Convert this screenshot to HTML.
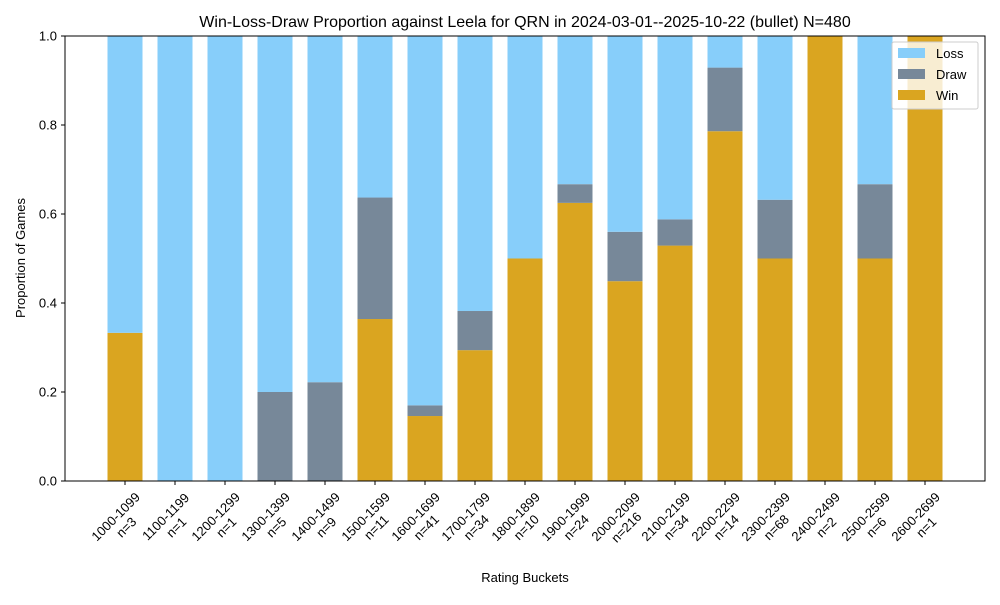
<!DOCTYPE html>
<html><head><meta charset="utf-8"><style>
body{margin:0;background:#fff}
svg{font-family:"Liberation Sans","DejaVu Sans",sans-serif}
</style></head><body>
<svg id="chart" width="1000" height="600" viewBox="0 0 1000 600">
<rect width="1000" height="600" fill="#fff"/>
<text x="525" y="27" text-anchor="middle" font-size="16">Win-Loss-Draw Proportion against Leela for QRN in 2024-03-01--2025-10-22 (bullet) N=480</text>
<g id="bars"></g>
<g id="axes"></g>
<text x="525" y="582" text-anchor="middle" font-size="13">Rating Buckets</text>
<text transform="translate(25,258) rotate(-90)" text-anchor="middle" font-size="13">Proportion of Games</text>
<g>
<rect x="892" y="42" width="86" height="67" fill="#fff" fill-opacity="0.8" stroke="#ccc" rx="2"/>
<g><rect x="898" y="48" width="27" height="10" fill="#87cefa"/><text x="936" y="58" font-size="13">Loss</text></g>
<g><rect x="898" y="69" width="27" height="10" fill="#778899"/><text x="936" y="79" font-size="13">Draw</text></g>
<g><rect x="898" y="90" width="27" height="10" fill="#daa520"/><text x="936" y="100" font-size="13">Win</text></g>
</g>
</svg>
<script>
const buckets=["1000-1099","1100-1199","1200-1299","1300-1399","1400-1499","1500-1599","1600-1699","1700-1799","1800-1899","1900-1999","2000-2099","2100-2199","2200-2299","2300-2399","2400-2499","2500-2599","2600-2699"];
const counts=[3,1,1,5,9,11,41,34,10,24,216,34,14,68,2,6,1];
const winProp=[0.333,0,0,0,0,0.364,0.146,0.294,0.5,0.625,0.449,0.529,0.786,0.5,1,0.5,1];
const drawProp=[0,0,0,0.2,0.222,0.273,0.024,0.088,0,0.042,0.111,0.059,0.143,0.132,0,0.167,0];
const yTicks=[0,0.2,0.4,0.6,0.8,1.0];
const NS="http://www.w3.org/2000/svg";
const L=65,R=985,T=36,B=481;
const x=i=>L+(i+1.2)*(R-L)/(buckets.length-1+2.4);
const y=v=>B-v*(B-T);
const bw=35;
function mk(tag,attrs,parent){const e=document.createElementNS(NS,tag);for(const k in attrs)e.setAttribute(k,attrs[k]);parent.appendChild(e);return e;}
const bars=document.getElementById('bars'),axes=document.getElementById('axes');
buckets.forEach((b,i)=>{
  const w=winProp[i],d=drawProp[i],l=Math.max(0,1-w-d);
  const segs=[[0,w,'#daa520','win'],[w,w+d,'#778899','draw'],[w+d,w+d+l,'#87cefa','loss']];
  segs.forEach(s=>{
    if(s[1]-s[0]<=0)return;
    const r=mk('rect',{x:x(i)-bw/2,y:y(s[1]),width:bw,height:y(s[0])-y(s[1]),fill:s[2]},bars);
    
    
  });
  mk('line',{x1:x(i),x2:x(i),y1:B,y2:B+4,stroke:'#000'},axes);
  const g=mk('g',{transform:`translate(${x(i)-4},${B+41}) rotate(-45)`},axes);
  
  
  mk('text',{x:0,y:-3,'text-anchor':'middle','font-size':13},g).textContent=b;
  mk('text',{x:0,y:12,'text-anchor':'middle','font-size':13},g).textContent='n='+counts[i];
});
yTicks.forEach(v=>{
  mk('line',{x1:L-4,x2:L,y1:y(v),y2:y(v),stroke:'#000'},axes);
  const t=mk('text',{x:L-8,y:y(v)+4.5,'text-anchor':'end','font-size':13},axes);
  t.textContent=v.toFixed(1);
  
  
});
const f=mk('rect',{x:L,y:T,width:R-L,height:B-T,fill:'none',stroke:'#000','stroke-width':1},axes);


</script>
</body></html>
